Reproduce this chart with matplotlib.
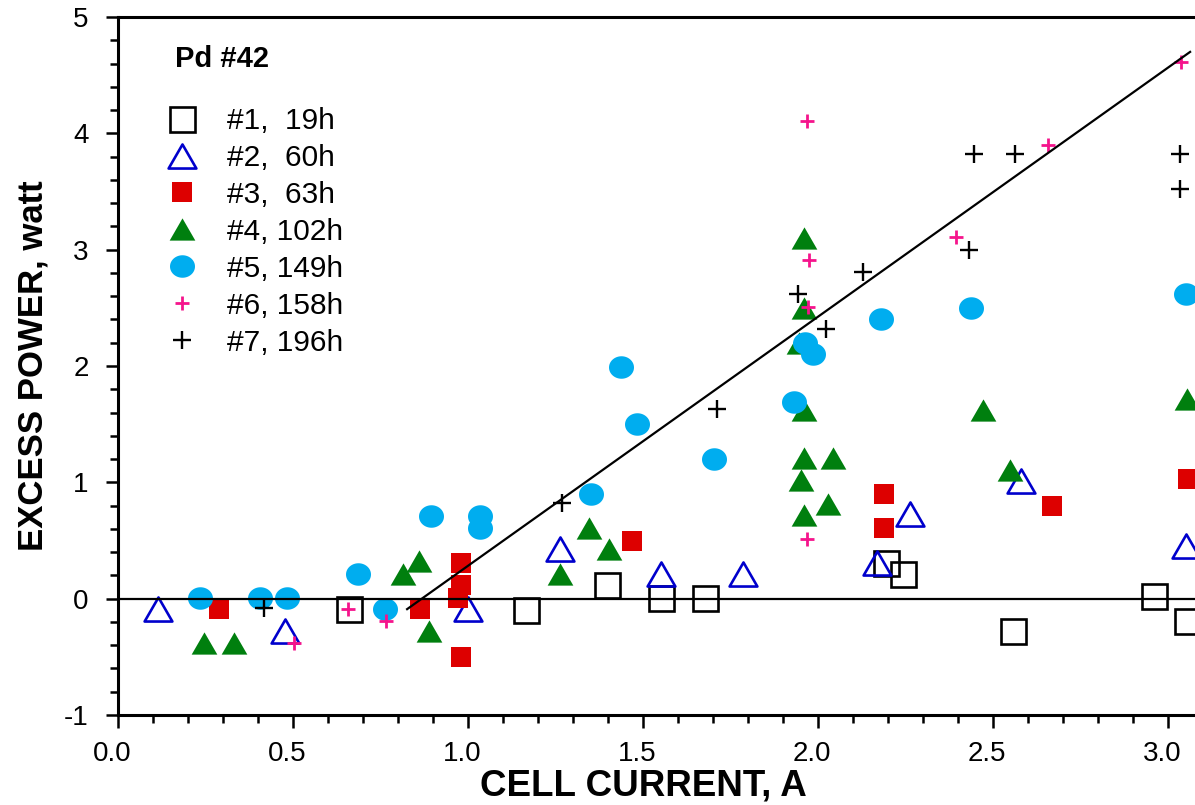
import numpy as np
import matplotlib
matplotlib.use("Agg")
import matplotlib.pyplot as plt
from matplotlib.path import Path
from matplotlib.ticker import MultipleLocator, FormatStrFormatter
from matplotlib.transforms import ScaledTranslation

plt.rcParams['font.family'] = ['Liberation Sans', 'DejaVu Sans']

# ---------------- data ----------------
labels = ["#1,  19h", "#2,  60h", "#3,  63h", "#4, 102h", "#5, 149h", "#6, 158h", "#7, 196h"]

x1 = [0.66, 1.166, 1.397, 1.551, 1.677, 2.194, 2.243, 2.557, 2.96, 3.054]
y1 = [-0.09, -0.095, 0.12, 0.01, 0.01, 0.31, 0.21, -0.28, 0.02, -0.19]

x2 = [0.114, 0.477, 1.0, 1.263, 1.551, 1.786, 2.169, 2.263, 2.58, 3.051]
y2 = [-0.09, -0.28, -0.09, 0.43, 0.21, 0.21, 0.31, 0.73, 1.01, 0.45]

x3 = [0.289, 0.863, 0.98, 0.98, 0.971, 0.98, 1.469, 2.189, 2.189, 2.669, 3.057]
y3 = [-0.09, -0.09, 0.31, 0.12, 0.01, -0.50, 0.50, 0.90, 0.61, 0.80, 1.03]

x4 = [0.246, 0.331, 0.814, 0.86, 0.889, 1.263, 1.346, 1.403, 1.96, 1.96, 1.946,
      1.96, 1.96, 2.043, 1.951, 2.029, 1.96, 2.471, 2.549, 3.054]
y4 = [-0.38, -0.38, 0.21, 0.32, -0.28, 0.21, 0.61, 0.43, 3.10, 2.50, 2.20,
      1.62, 1.21, 1.21, 1.02, 0.81, 0.72, 1.62, 1.11, 1.72]

x5 = [0.234, 0.406, 0.483, 0.686, 0.763, 0.894, 1.034, 1.034, 1.351, 1.437, 1.483,
      1.703, 1.931, 1.963, 1.986, 2.18, 2.437, 3.051]
y5 = [0.01, 0.01, 0.01, 0.21, -0.09, 0.71, 0.71, 0.61, 0.90, 1.99, 1.50,
      1.20, 1.69, 2.20, 2.10, 2.40, 2.50, 2.62]

x6 = [0.503, 0.657, 0.766, 1.969, 1.969, 1.975, 1.97, 2.394, 2.657, 3.037]
y6 = [-0.38, -0.09, -0.19, 0.51, 4.11, 2.91, 2.51, 3.11, 3.90, 4.61]

x7 = [0.417, 1.269, 1.711, 1.943, 2.023, 2.129, 2.431, 2.446, 2.563, 3.034, 3.034]
y7 = [-0.08, 0.82, 1.63, 2.62, 2.32, 2.81, 3.00, 3.82, 3.82, 3.82, 3.52]

fit_x = [0.826, 3.063]
fit_y = [-0.09, 4.70]

# ---------------- markers ----------------
tri = Path([(-1, -0.866), (1, -0.866), (0, 0.866), (-1, -0.866)],
           [Path.MOVETO, Path.LINETO, Path.LINETO, Path.CLOSEPOLY])
th = np.linspace(0, 2 * np.pi, 64)
ell = Path(np.column_stack([np.cos(th), 0.9 * np.sin(th)]), closed=True)

fig = plt.figure(figsize=(11.95, 8.05), dpi=100)
ax = fig.add_axes([118 / 1195, 90 / 805, 1077 / 1195, 698 / 805])

styles = [
    dict(marker='s', ms=18, mfc='none', mec='black', mew=1.9),
    dict(marker=tri, ms=20, mfc='none', mec='#0000CC', mew=1.9),
    dict(marker='s', ms=13.7, mfc='#DD0000', mec='#DD0000', mew=0),
    dict(marker=tri, ms=18.5, mfc='#007F0E', mec='#007F0E', mew=0),
    dict(marker=ell, ms=18, mfc='#00ADEF', mec='#00ADEF', mew=0),
    dict(marker='+', ms=9.5, mec='#F5148C', mew=2.0),
    dict(marker='+', ms=13.5, mec='black', mew=1.7),
]
xs = [x1, x2, x3, x4, x5, x6, x7]
ys = [y1, y2, y3, y4, y5, y6, y7]

handles = []
for x, y, st, lab in zip(xs, ys, styles, labels):
    h, = ax.plot(x, y, linestyle='none', label=lab, zorder=2, **st)
    handles.append(h)

ax.axhline(0, color='black', lw=1.6, zorder=3)
ax.plot(fit_x, fit_y, color='black', lw=1.6, zorder=3)

ax.set_xlim(0, 3.077)
ax.set_ylim(-1, 5)
ax.xaxis.set_major_locator(MultipleLocator(0.5))
ax.xaxis.set_minor_locator(MultipleLocator(0.1))
ax.yaxis.set_major_locator(MultipleLocator(1))
ax.yaxis.set_minor_locator(MultipleLocator(0.2))
ax.xaxis.set_major_formatter(FormatStrFormatter('%.1f'))
ax.yaxis.set_major_formatter(FormatStrFormatter('%d'))

ax.spines['right'].set_visible(False)
for s in ['left', 'bottom', 'top']:
    ax.spines[s].set_linewidth(2.2)
ax.tick_params(axis='both', which='major', direction='out', length=9, width=1.8,
               labelsize=20)
ax.tick_params(axis='both', which='minor', direction='out', length=5.5, width=1.8)
ax.tick_params(axis='x', which='major', pad=10)
ax.tick_params(axis='y', which='major', pad=12)
ax.tick_params(top=False, right=False, which='both')

# x tick labels sit slightly left of their ticks in the reference
shift = ScaledTranslation(-6 / 100, 0, fig.dpi_scale_trans)
for t in ax.xaxis.get_major_ticks():
    t.label1.set_transform(t.label1.get_transform() + shift)

ax.set_xlabel("CELL CURRENT, A", fontsize=26.5, fontweight='bold')
ax.xaxis.set_label_coords((643 - 118) / 1077, -(768 - 715) / 698)
ax.set_ylabel("EXCESS POWER, watt", fontsize=25, fontweight='bold')
ax.yaxis.set_label_coords(-(118 - 50) / 1077, (715 - 366) / 698)

fig.text(175 / 1195, 1 - 59 / 805, "Pd #42", fontsize=21, fontweight='bold',
         va='center', ha='left')

leg = ax.legend(handles=handles, loc='upper left',
                bbox_to_anchor=(158 / 1195, 1 - 107 / 805),
                bbox_transform=fig.transFigure, frameon=False, fontsize=21.5,
                handlelength=1.6, handletextpad=0.7, labelspacing=0.3,
                borderpad=0, borderaxespad=0, numpoints=1)

fig.savefig("out.png", dpi=100)
